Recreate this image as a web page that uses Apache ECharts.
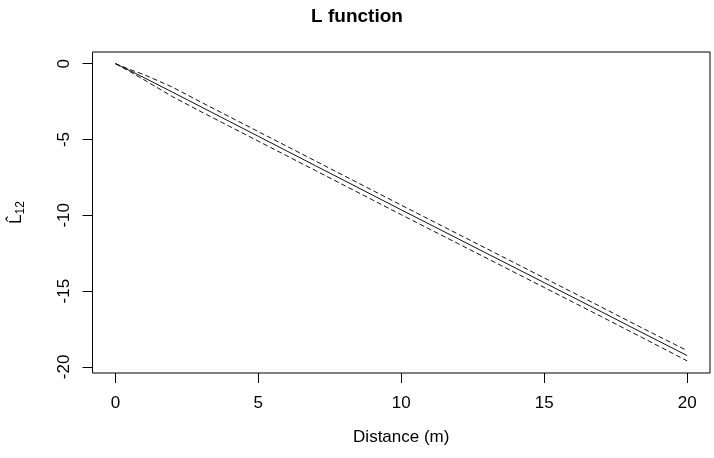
<!DOCTYPE html>
<html>
<head>
<meta charset="utf-8">
<script src="https://cdn.jsdelivr.net/npm/echarts@6/dist/echarts.min.js"></script>
<style>html,body{margin:0;padding:0;background:#fff}#c{width:714px;height:458px}</style>
</head>
<body>
<div id="c"></div>
<script>
// Distance values (m)
var distance = [0, 0.5, 1, 2, 3, 4, 5, 6, 7, 8, 9, 10, 11, 12, 13, 14, 15, 16, 17, 18, 19, 20];
// Estimated L12 function (solid)
var lObserved = [0, -0.45, -0.92, -1.88, -2.85, -3.82, -4.79, -5.76, -6.73, -7.70, -8.67, -9.64, -10.60, -11.56, -12.52, -13.48, -14.44, -15.40, -16.36, -17.33, -18.29, -19.25];
// Upper envelope (dashed)
var lUpper = [0, -0.38, -0.72, -1.55, -2.54, -3.51, -4.48, -5.45, -6.42, -7.39, -8.36, -9.33, -10.29, -11.25, -12.21, -13.17, -14.13, -15.09, -16.05, -17.02, -17.98, -18.92];
// Lower envelope (dashed)
var lLower = [0, -0.52, -1.06, -2.18, -3.17, -4.14, -5.11, -6.08, -7.05, -8.02, -8.99, -9.96, -10.92, -11.88, -12.84, -13.80, -14.76, -15.72, -16.68, -17.65, -18.62, -19.60];
// Tick labels
var xTicks = [0, 5, 10, 15, 20];
var yTicks = [0, -5, -10, -15, -20];

function pairs(xs, ys) { return xs.map(function (x, i) { return [x, ys[i]]; }); }

var font = '"Liberation Sans", Arial, sans-serif';
var chart = echarts.init(document.getElementById('c'), null, {renderer: 'canvas'});
chart.setOption({
  animation: false,
  backgroundColor: '#fff',
  title: {
    text: 'L function', left: 'center', top: 2,
    textStyle: {fontFamily: font, fontSize: 19, fontWeight: 'bold', color: '#000'}
  },
  grid: {left: 85, right: 4, top: 52, bottom: 85, show: true, borderColor: '#000', borderWidth: 1, backgroundColor: 'transparent'},
  xAxis: {
    type: 'value', min: -0.8, max: 20.8,
    name: 'Distance (m)', nameLocation: 'middle', nameGap: 56,
    nameTextStyle: {fontFamily: font, fontSize: 17, color: '#000'},
    axisLine: {show: false, onZero: false},
    splitLine: {show: false},
    axisTick: {show: true, inside: false, length: 10, customValues: xTicks, lineStyle: {color: '#000', width: 1}},
    axisLabel: {customValues: xTicks, margin: 22, fontFamily: font, fontSize: 17, color: '#000'}
  },
  yAxis: {
    type: 'value', min: -20.4, max: 0.77,
    name: '{a|L\u0302}{b|12}', nameLocation: 'middle', nameGap: 66, nameRotate: 90,
    nameTextStyle: {
      fontFamily: font, color: '#000',
      rich: {
        a: {fontFamily: font, fontSize: 17, color: '#000'},
        b: {fontFamily: font, fontSize: 12, color: '#000', padding: [8, 0, 0, 0]}
      }
    },
    axisLine: {show: false, onZero: false},
    splitLine: {show: false},
    axisTick: {show: true, inside: false, length: 10, customValues: yTicks, lineStyle: {color: '#000', width: 1}},
    axisLabel: {customValues: yTicks, rotate: 90, margin: 20, fontFamily: font, fontSize: 17, color: '#000'}
  },
  series: [
    {type: 'line', data: pairs(distance, lObserved), showSymbol: false, lineStyle: {color: '#111', width: 1, type: 'solid'}},
    {type: 'line', data: pairs(distance, lUpper), showSymbol: false, lineStyle: {color: '#111', width: 1, type: [5, 3]}},
    {type: 'line', data: pairs(distance, lLower), showSymbol: false, lineStyle: {color: '#111', width: 1, type: [5, 3]}}
  ]
});
</script>
</body>
</html>
